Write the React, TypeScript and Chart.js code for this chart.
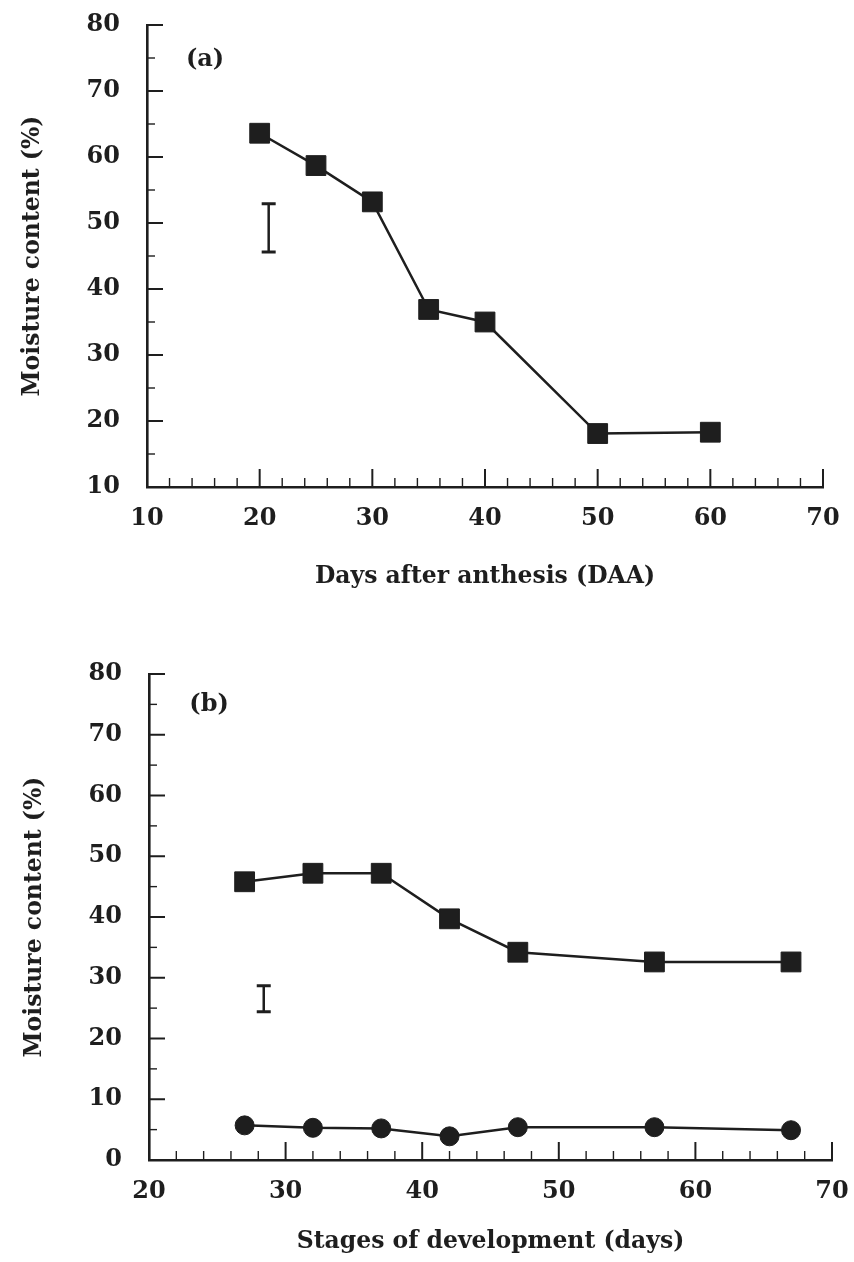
import React, { useEffect, useRef } from "react";
import { Chart, registerables } from "chart.js";

Chart.register(...registerables);

// ---------- data ----------
const daysA = [20, 25, 30, 35, 40, 50, 60];
const moistureA = [63.6, 58.7, 53.2, 36.9, 35.0, 18.1, 18.3];
const errorBarA = [20.8, 45.6, 52.9]; // x, low, high

const daysB = [27, 32, 37, 42, 47, 57, 67];
const moistureB1 = [45.8, 47.2, 47.2, 39.7, 34.2, 32.6, 32.6];
const moistureB2 = [5.7, 5.3, 5.2, 3.9, 5.4, 5.4, 4.9];
const errorBarB = [28.4, 24.4, 28.7];

const yTicks = [0, 10, 20, 30, 40, 50, 60, 70, 80];
const panelLabels = ["(a)", "(b)"];
const panelLabelPosA = [15.15, 74.7];
const panelLabelPosB = [24.4, 74.9];

const INK = "#1e1e1e";
const FONT = "'DejaVu Serif', 'Liberation Serif', serif";

const decorPlugin = {
  id: "decor",
  afterDatasetsDraw(chart: any, _args: any, opts: any) {
    const ctx = chart.ctx;
    const xs = chart.scales.x;
    const ys = chart.scales.y;
    const area = chart.chartArea;
    ctx.save();
    ctx.strokeStyle = INK;
    ctx.lineCap = "butt";
    // x ticks (inside, pointing up)
    for (let v = xs.min + 2; v <= xs.max + 0.001; v += 2) {
      const px = xs.getPixelForValue(v);
      const major = Math.abs(v % 10) < 0.001;
      ctx.lineWidth = major ? 2 : 1.4;
      ctx.beginPath();
      ctx.moveTo(px, area.bottom);
      ctx.lineTo(px, area.bottom - (major ? 18 : 9));
      ctx.stroke();
    }
    // y ticks (inside, pointing right)
    for (let v = ys.min + 5; v <= ys.max + 0.001; v += 5) {
      const py = ys.getPixelForValue(v);
      const major = Math.abs(v % 10) < 0.001;
      ctx.lineWidth = major ? 2 : 1.4;
      ctx.beginPath();
      ctx.moveTo(area.left, py);
      ctx.lineTo(area.left + (major ? 16 : 8), py);
      ctx.stroke();
    }
    // error bar
    const eb = opts.errorBar;
    if (eb) {
      const ex = xs.getPixelForValue(eb[0]);
      const lo = ys.getPixelForValue(eb[1]);
      const hi = ys.getPixelForValue(eb[2]);
      ctx.lineWidth = 2.5;
      ctx.beginPath();
      ctx.moveTo(ex, lo);
      ctx.lineTo(ex, hi);
      ctx.stroke();
      ctx.lineWidth = 3;
      ctx.beginPath();
      ctx.moveTo(ex - 7, lo);
      ctx.lineTo(ex + 7, lo);
      ctx.moveTo(ex - 7, hi);
      ctx.lineTo(ex + 7, hi);
      ctx.stroke();
    }
    // panel label
    if (opts.label) {
      ctx.fillStyle = INK;
      ctx.font = `bold 24px ${FONT}`;
      ctx.textAlign = "center";
      ctx.textBaseline = "middle";
      ctx.fillText(
        opts.label,
        xs.getPixelForValue(opts.labelPos[0]),
        ys.getPixelForValue(opts.labelPos[1])
      );
    }
    ctx.restore();
  },
};

function makeConfig(p: {
  datasets: any[];
  xMin: number;
  xMax: number;
  yMin: number;
  xTitle: string;
  xAxisHeight: number;
  xTitlePadBottom: number;
  padding: any;
  errorBar: number[];
  label: string;
  labelPos: number[];
}): any {
  const tickFont = { family: FONT, size: 24, weight: "bold" as const };
  const titleFont = { family: FONT, size: 23.5, weight: "bold" as const };
  return {
    type: "line",
    data: { datasets: p.datasets },
    plugins: [decorPlugin],
    options: {
      animation: false,
      responsive: false,
      events: [],
      layout: { padding: p.padding, autoPadding: false },
      plugins: {
        legend: { display: false },
        tooltip: { enabled: false },
        decor: { errorBar: p.errorBar, label: p.label, labelPos: p.labelPos },
      },
      scales: {
        x: {
          type: "linear",
          min: p.xMin,
          max: p.xMax,
          afterFit: (s: any) => {
            s.height = p.xAxisHeight;
            s.paddingLeft = 0;
            s.paddingRight = 0;
          },
          afterBuildTicks: (s: any) => {
            const t = [];
            for (let v = p.xMin; v <= p.xMax; v += 10) t.push({ value: v });
            s.ticks = t;
          },
          grid: { display: false, drawTicks: false },
          border: { display: true, color: INK, width: 2.6 },
          ticks: {
            color: INK,
            font: tickFont,
            padding: 17,
            maxRotation: 0,
            autoSkip: false,
          },
          title: {
            display: true,
            text: p.xTitle,
            color: INK,
            font: titleFont,
            padding: { top: 0, bottom: p.xTitlePadBottom },
          },
        },
        y: {
          type: "linear",
          min: p.yMin,
          max: 80,
          afterFit: (s: any) => {
            s.width = 147;
            s.paddingTop = 0;
            s.paddingBottom = 0;
          },
          afterBuildTicks: (s: any) => {
            s.ticks = yTicks.filter((v) => v >= p.yMin).map((v) => ({ value: v }));
          },
          grid: { display: false, drawTicks: false },
          border: { display: true, color: INK, width: 2.6 },
          ticks: { color: INK, font: tickFont, padding: 27 },
          title: {
            display: true,
            text: "Moisture content (%)",
            color: INK,
            font: titleFont,
            padding: { top: 19, bottom: 0 },
          },
        },
      },
    },
  };
}

function lineDataset(xs: number[], ys: number[], style: string, radius: number) {
  return {
    data: xs.map((x, i) => ({ x, y: ys[i] })),
    borderColor: INK,
    borderWidth: 2.5,
    backgroundColor: INK,
    pointBackgroundColor: INK,
    pointBorderColor: INK,
    pointBorderWidth: 1,
    pointStyle: style,
    pointRadius: radius,
    tension: 0,
    fill: false,
  };
}

function ChartCanvas({ config, width, height, top }: any) {
  const ref = useRef<HTMLCanvasElement | null>(null);
  useEffect(() => {
    if (!ref.current) return;
    const chart = new Chart(ref.current, config);
    return () => chart.destroy();
  }, []);
  return (
    <canvas
      ref={ref}
      width={width}
      height={height}
      style={{ position: "absolute", left: 0, top, width, height }}
    />
  );
}

export default function App() {
  const configA = makeConfig({
    datasets: [lineDataset(daysA, moistureA, "rect", 14)],
    xMin: 10,
    xMax: 70,
    yMin: 10,
    xTitle: "Days after anthesis (DAA)",
    xAxisHeight: 133,
    xTitlePadBottom: 29,
    padding: { top: 25, right: 31, left: 0, bottom: 0 },
    errorBar: errorBarA,
    label: panelLabels[0],
    labelPos: panelLabelPosA,
  });
  const configB = makeConfig({
    datasets: [
      lineDataset(daysB, moistureB1, "rect", 14),
      lineDataset(daysB, moistureB2, "circle", 9.5),
    ],
    xMin: 20,
    xMax: 70,
    yMin: 0,
    xTitle: "Stages of development (days)",
    xAxisHeight: 102,
    xTitlePadBottom: 6,
    padding: { top: 54, right: 22, left: 2, bottom: 0 },
    errorBar: errorBarB,
    label: panelLabels[1],
    labelPos: panelLabelPosB,
  });
  return (
    <div
      style={{
        position: "absolute",
        left: 0,
        top: 0,
        width: 854,
        height: 1262,
        background: "#fff",
        overflow: "hidden",
      }}
    >
      <ChartCanvas config={configA} width={854} height={620} top={0} />
      <ChartCanvas config={configB} width={854} height={642} top={620} />
    </div>
  );
}
